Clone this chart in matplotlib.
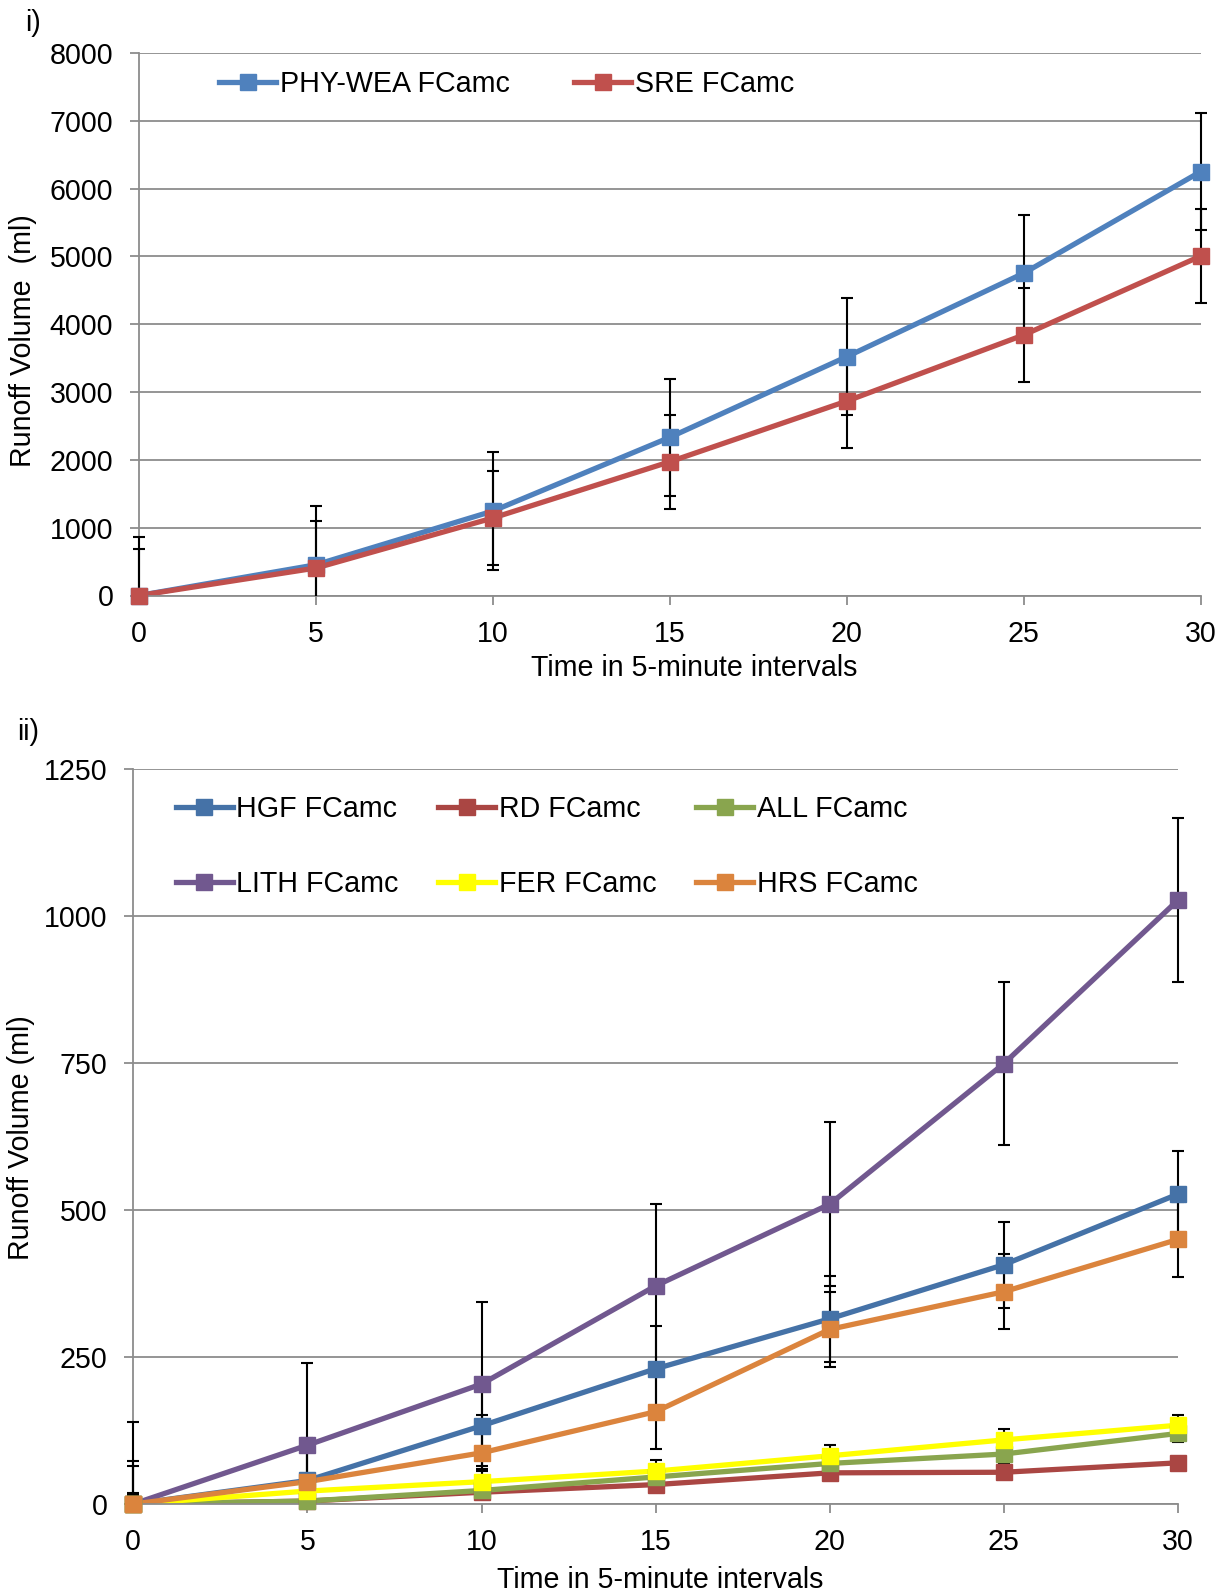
import matplotlib
matplotlib.use("Agg")
import matplotlib.pyplot as plt
from matplotlib.patches import Rectangle

plt.rcParams['font.family'] = ['Liberation Sans', 'DejaVu Sans']

# ---- data -------------------------------------------------------------
time = [0, 5, 10, 15, 20, 25, 30]

# panel i
phy_wea = [0, 453, 1245, 2332, 3521, 4752, 6249]
phy_wea_err = [865, 865, 865, 865, 865, 865, 865]
sre = [0, 405, 1143, 1972, 2866, 3841, 5004]
sre_err = [690, 690, 690, 690, 690, 690, 690]

# panel ii
hgf = [0, 40, 133, 230, 315, 407, 527]
hgf_err = [73, 73, 73, 73, 73, 73, 73]
rd = [0, 5, 20, 33, 53, 54, 70]
rd_err = [10, 10, 10, 10, 10, 10, 10]
all_ = [0, 5, 23, 46, 69, 85, 120]
all_err = [15, 15, 15, 15, 15, 15, 15]
lith = [0, 100, 204, 371, 510, 749, 1027]
lith_err = [139, 139, 139, 139, 139, 139, 139]
fer = [0, 22, 38, 56, 82, 109, 134]
fer_err = [18, 18, 18, 18, 18, 18, 18]
hrs = [0, 38, 87, 157, 297, 361, 450]
hrs_err = [64, 64, 64, 64, 64, 64, 64]

xticks = [0, 5, 10, 15, 20, 25, 30]
yticks_i = [0, 1000, 2000, 3000, 4000, 5000, 6000, 7000, 8000]
yticks_ii = [0, 250, 500, 750, 1000, 1250]

# ---- style ------------------------------------------------------------
FS = 20.6
GRID = '#8c8c8c'
LW = 3.8
MS = 11
W, H = 1232, 1593

fig = plt.figure(figsize=(W / 100, H / 100), dpi=100)


def fx(px):
    return px / W


def fy(py):
    return 1 - py / H


def style_axes(ax, xmax, yticks):
    ax.set_xlim(0, xmax)
    ax.set_ylim(yticks[0], yticks[-1])
    ax.set_xticks(xticks)
    ax.set_yticks(yticks)
    for s in ('top', 'right'):
        ax.spines[s].set_visible(False)
    for s in ('left', 'bottom'):
        ax.spines[s].set_color(GRID)
        ax.spines[s].set_linewidth(1.3)
    ax.yaxis.grid(True, color=GRID, linewidth=1.3)
    ax.set_axisbelow(True)
    ax.tick_params(axis='both', colors=GRID, length=6.5, width=1.3,
                   labelsize=FS, labelcolor='black')
    ax.tick_params(axis='y', pad=12)
    ax.tick_params(axis='x', pad=11)


def draw_series(ax, y, err, color, label):
    eb = ax.errorbar(time, y, yerr=err, fmt='none', ecolor='black',
                     elinewidth=1.5, capsize=4.2, capthick=1.5, zorder=3)
    # error bars stop at the x axis but may overhang the left/right edges
    clip = Rectangle((-0.05, 0), 1.1, 1.2, transform=ax.transAxes,
                     facecolor='none', edgecolor='none')
    for art in list(eb.lines[1]) + list(eb.lines[2]):
        art.set_clip_path(clip)
    ax.plot(time, y, color=color, linewidth=LW, zorder=2)
    ax.plot(time, y, linestyle='none', marker='s', markersize=MS,
            color=color, zorder=4, clip_on=False)
    # legend proxy
    return ax.plot([], [], color=color, linewidth=LW, marker='s',
                   markersize=MS, label=label)[0]


# ---- panel i ----------------------------------------------------------
ax1 = fig.add_axes([fx(139), fy(595.5), fx(1200.5) - fx(139), fy(53) - fy(595.5)])
style_axes(ax1, 30, yticks_i)
h1 = draw_series(ax1, phy_wea, phy_wea_err, '#4F81BD', 'PHY-WEA FCamc')
h2 = draw_series(ax1, sre, sre_err, '#C0504D', 'SRE FCamc')
ax1.set_xlabel('Time in 5-minute intervals', fontsize=FS, va='center')
ax1.xaxis.set_label_coords(fx(694), fy(668), transform=fig.transFigure)
ax1.set_ylabel('Runoff Volume  (ml)', fontsize=FS, va='center')
ax1.yaxis.set_label_coords(fx(23), fy(341), transform=fig.transFigure)
fig.legend(handles=[h1, h2], loc='center left', ncol=2, frameon=False,
           fontsize=FS, bbox_to_anchor=(fx(219), fy(84)),
           bbox_transform=fig.transFigure, borderpad=0, borderaxespad=0,
           handlelength=2.0, handletextpad=0.12, columnspacing=2.25)
fig.text(fx(25), fy(23), 'i)', fontsize=FS, va='center', ha='left')

# ---- panel ii ---------------------------------------------------------
ax2 = fig.add_axes([fx(133.3), fy(1504), fx(1178) - fx(133.3), fy(769) - fy(1504)])
style_axes(ax2, 30, yticks_ii)
g_hgf = draw_series(ax2, hgf, hgf_err, '#4572A7', 'HGF FCamc')
g_rd = draw_series(ax2, rd, rd_err, '#AA4643', 'RD FCamc')
g_all = draw_series(ax2, all_, all_err, '#89A54E', 'ALL FCamc')
g_lith = draw_series(ax2, lith, lith_err, '#71588F', 'LITH FCamc')
g_fer = draw_series(ax2, fer, fer_err, '#FFFF00', 'FER FCamc')
g_hrs = draw_series(ax2, hrs, hrs_err, '#DB843D', 'HRS FCamc')
ax2.set_xlabel('Time in 5-minute intervals', fontsize=FS, va='center')
ax2.xaxis.set_label_coords(fx(660), fy(1580), transform=fig.transFigure)
ax2.set_ylabel('Runoff Volume (ml)', fontsize=FS, va='center')
ax2.yaxis.set_label_coords(fx(21), fy(1138), transform=fig.transFigure)
fig.legend(handles=[g_hgf, g_lith, g_rd, g_fer, g_all, g_hrs],
           loc='upper left', ncol=3, frameon=False, fontsize=FS,
           bbox_to_anchor=(fx(175.7), fy(795)),
           bbox_transform=fig.transFigure, borderpad=0, borderaxespad=0,
           handlelength=2.0, handletextpad=0.12, columnspacing=1.38,
           labelspacing=1.65)
fig.text(fx(17), fy(732), 'ii)', fontsize=FS, va='center', ha='left')

fig.savefig('out.png', dpi=100)
